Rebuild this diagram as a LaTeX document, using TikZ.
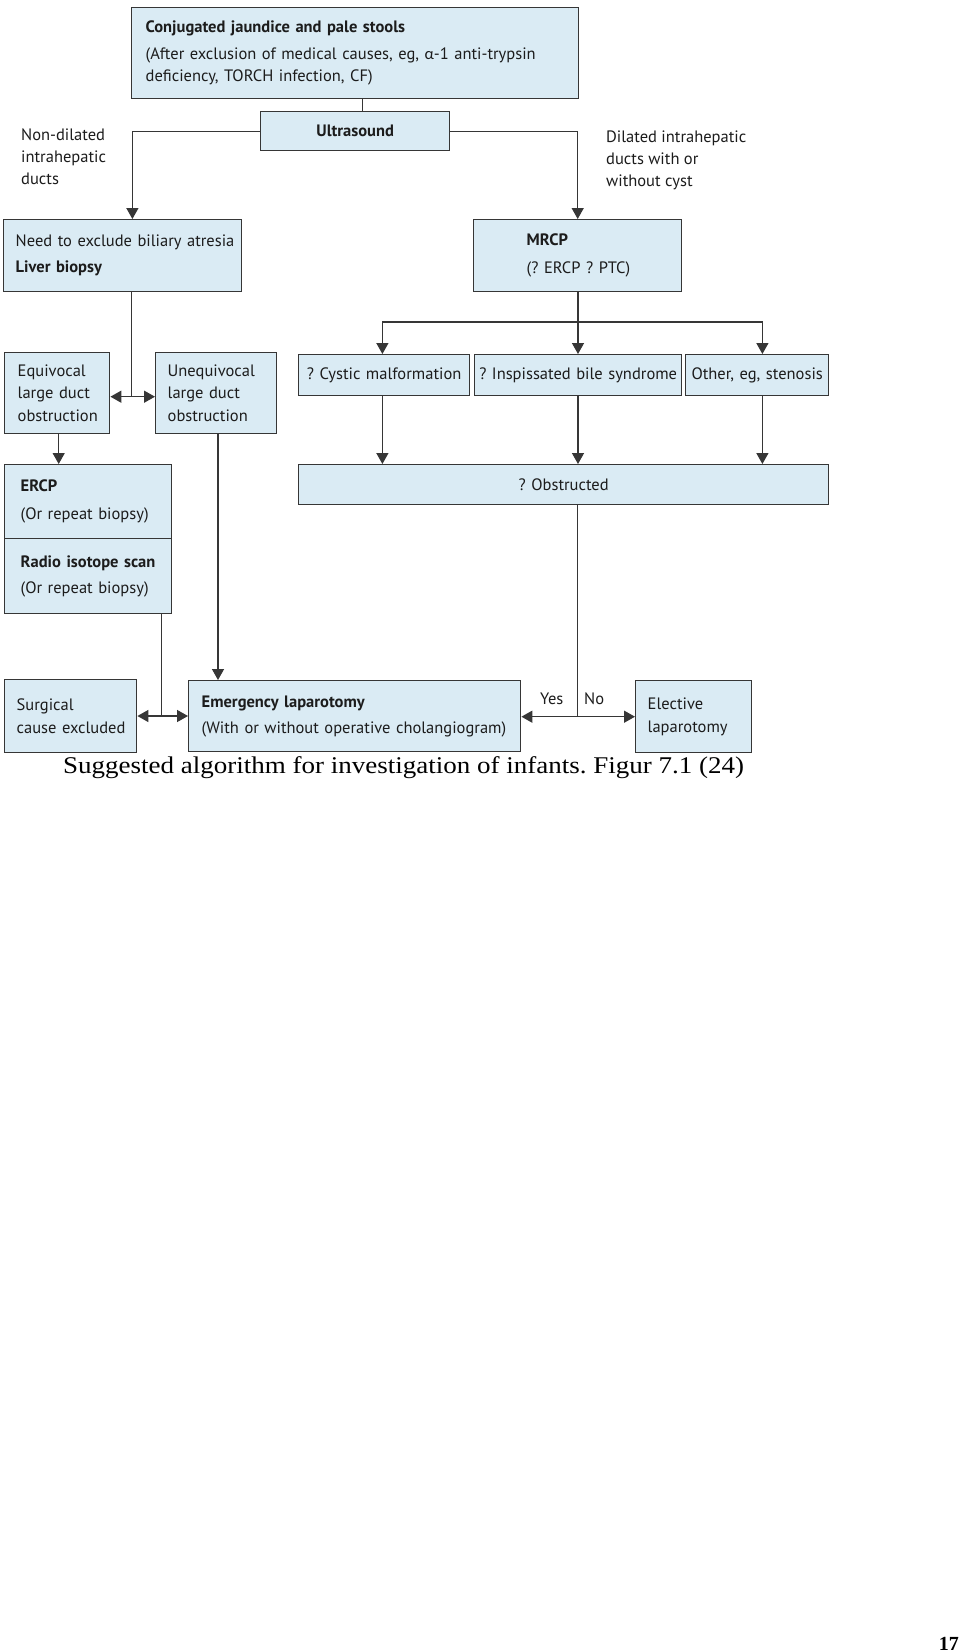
\documentclass[tikz,border=0pt]{standalone}
\usepackage{fontspec}
\setmainfont{PT Sans}
\newfontfamily\grkfont{Carlito}
\newfontfamily\capfont[FakeStretch=1.125]{Liberation Serif}
\newfontfamily\numfont{Liberation Serif}
\usetikzlibrary{arrows.meta}
\definecolor{boxfill}{HTML}{DAEBF4}
\definecolor{boxline}{HTML}{363636}
\definecolor{inkcol}{HTML}{1C1C1C}
\hyphenpenalty=10000
\exhyphenpenalty=10000
\frenchspacing

\begin{document}
\begin{tikzpicture}[x=1pt,y=-1pt,
  box/.style={draw=boxline, fill=boxfill, line width=1.4pt, anchor=north west, align=left,
    inner ysep=0pt, text=inkcol, font=\fontsize{16.5}{22.5}\selectfont},
  lbl/.style={anchor=north west, align=left, inner sep=0pt, text=inkcol,
    font=\fontsize{16.5}{22}\selectfont},
  link/.style={draw=boxline, line width=1.4pt},
  arr/.style={link, -{Triangle[length=11pt,width=12pt]}}]
\useasboundingbox[fill=white] (0,0) rectangle (960,1652);

\node[box, inner xsep=14pt, text width=419pt, minimum height=91pt] (top) at (131,7)
{\textbf{Conjugated jaundice and pale stools}\\[4pt]
\mbox{(After exclusion of medical causes, eg, {\grkfont α}-1 anti-trypsin}\\\mbox{deficiency, TORCH infection, CF)}};
\node[box, align=center, inner xsep=0pt, text width=189pt, minimum height=39pt] (us) at (260,111)
{\textbf{Ultrasound}};
\node[lbl] (nondil) at (21,129) {Non-dilated\\intrahepatic\\ducts};
\node[lbl] (dil) at (606,131) {Dilated intrahepatic\\\mbox{ducts with or}\\without cyst};

\node[box, inner xsep=12pt, text width=214pt, minimum height=72pt] (need) at (3,219)
{\mbox{Need to exclude biliary atresia}\\[3.5pt]\textbf{Liver biopsy}};
\node[box, inner xsep=0pt, text width=208pt, minimum height=72pt] (mrcp) at (473,219)
{\hspace*{53pt}\textbf{MRCP}\\[5.5pt]\hspace*{53pt}(? ERCP ? PTC)};

\node[box, inner xsep=13pt, text width=79pt, minimum height=81pt] (equiv) at (4,352)
{Equivocal\\\mbox{large duct}\\obstruction};
\node[box, inner xsep=12pt, text width=97pt, minimum height=81pt] (unequiv) at (155,352)
{Unequivocal\\\mbox{large duct}\\obstruction};
\node[box, align=center, inner xsep=0pt, text width=171pt, minimum height=41pt] (cystic) at (298,354)
{? Cystic malformation};
\node[box, align=center, inner xsep=0pt, text width=207pt, minimum height=41pt] (insp) at (474,354)
{? Inspissated bile syndrome};
\node[box, align=center, inner xsep=0pt, text width=143pt, minimum height=41pt] (other) at (685,354)
{Other, eg, stenosis};

\node[box, inner xsep=16pt, text width=135pt, minimum height=74pt] (ercp) at (4,464)
{\textbf{ERCP}\\[5.5pt](Or repeat biopsy)};
\node[box, inner xsep=16pt, text width=135pt, minimum height=75pt] (radio) at (4,538)
{\mbox{\textbf{Radio isotope scan}}\\[3.5pt]\mbox{(Or repeat biopsy)}};
\node[box, align=center, inner xsep=0pt, text width=530pt, minimum height=40pt] (obs) at (298,464)
{? Obstructed};

\node[box, inner xsep=12pt, text width=108pt, minimum height=73pt] (surg) at (4,679)
{Surgical\\\mbox{cause excluded}};
\node[box, inner xsep=13pt, text width=306pt, minimum height=71pt] (emerg) at (188,680)
{\textbf{Emergency laparotomy}\\[3.5pt]\mbox{(With or without operative cholangiogram)}};
\node[box, inner xsep=12pt, text width=92pt, minimum height=72pt] (elect) at (635,680)
{Elective\\laparotomy};
\node[lbl, anchor=base west] (yes) at (540,704) {Yes};
\node[lbl, anchor=base west] (no) at (584,704) {No};

\node[anchor=base west, inner sep=0pt, font=\capfont\fontsize{24}{26}\selectfont] (cap) at (63,773)
{Suggested algorithm for investigation of infants. Figur 7.1 (24)};
\node[anchor=north east, inner sep=0pt, font=\numfont\bfseries\fontsize{20}{22}\selectfont] (pg) at (959,1637) {17};

\coordinate (j1) at (131.7,396.7);
\coordinate (j2) at (578,322);
\coordinate (j3) at (577.7,716.7);
\coordinate (j4) at (161.7,716);

\draw[link] ([xshift=7.5pt]us.north) -- ([xshift=7.5pt]us.north |- top.south);
\draw[arr] (us.west) -| ([xshift=9.7pt]need.north);
\draw[arr] (us.east) -| (mrcp.north);
\draw[link] (j1 |- need.south) -- (j1);
\draw[arr] (j1) -- (j1 -| equiv.east);
\draw[arr] (j1) -- (j1 -| unequiv.west);
\draw[arr] ([xshift=1.5pt]equiv.south) -- ([xshift=1.5pt]equiv.south |- ercp.north);
\draw[arr] ([xshift=1.8pt]unequiv.south) -- ([xshift=1.8pt]unequiv.south |- emerg.north);
\draw[link] (j2 |- mrcp.south) -- (j2);
\draw[arr] (j2) -| ([xshift=-1.8pt]cystic.north);
\draw[arr] (j2) -- (j2 |- insp.north);
\draw[arr] (j2) -| ([xshift=5.2pt]other.north);
\draw[arr] ([xshift=-1.8pt]cystic.south) -- ([xshift=-1.8pt]cystic.south |- obs.north);
\draw[arr] (j2 |- insp.south) -- (j2 |- obs.north);
\draw[arr] ([xshift=5.2pt]other.south) -- ([xshift=5.2pt]other.south |- obs.north);
\draw[link] (j3 |- obs.south) -- (j3);
\draw[arr] (j3) -- (j3 -| emerg.east);
\draw[arr] (j3) -- (j3 -| elect.west);
\draw[link] (j4 |- radio.south) -- (j4);
\draw[arr] (j4) -- (j4 -| surg.east);
\draw[arr] (j4) -- (j4 -| emerg.west);
\end{tikzpicture}
\end{document}
